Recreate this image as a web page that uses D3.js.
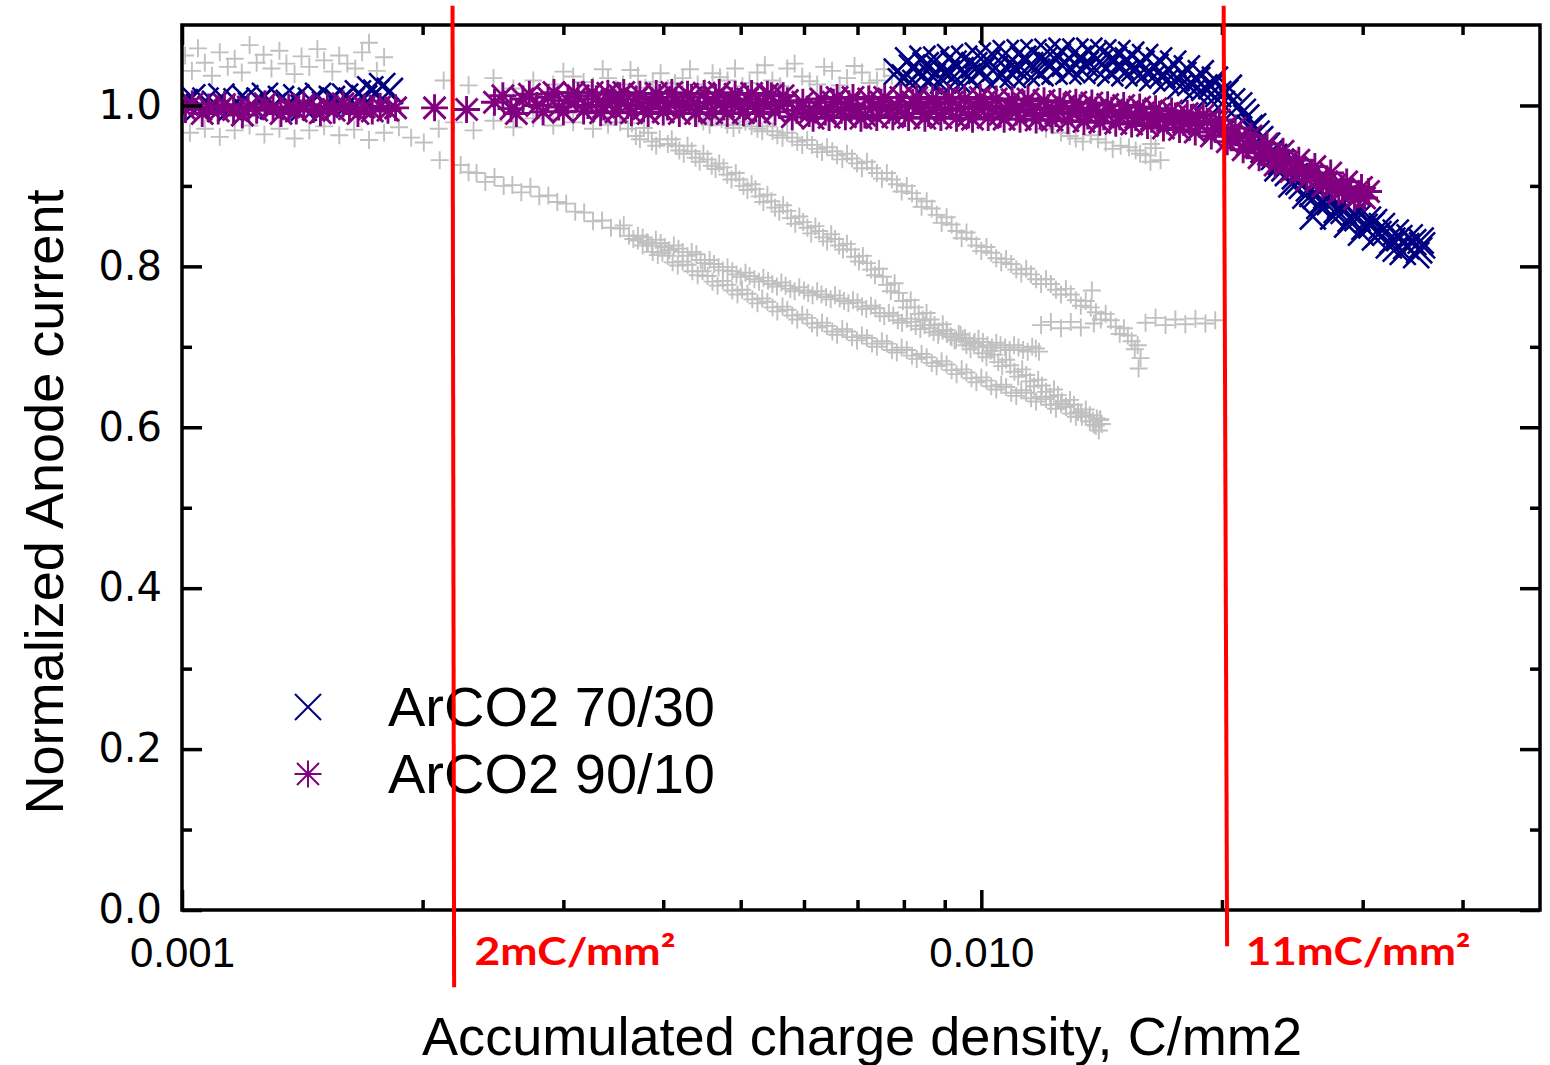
<!DOCTYPE html>
<html>
<head>
<meta charset="utf-8">
<script src="https://cdn.jsdelivr.net/npm/d3@7"></script>
<style>
  body { margin: 0; background: #fff; }
  svg { display: block; }
</style>
</head>
<body>
<svg id="chart" width="1550" height="1065"></svg>
<script>
// x values are in mC/mm2 (divided by 1000 when plotted, axis is C/mm2), y = normalized anode current

// --- reference runs (grey crosses)
const refA = [[1.009,1.062],[1.029,1.043],[1.047,1.071],[1.068,1.053],[1.090,1.037],[1.115,1.066],[1.141,1.048],[1.164,1.058],[1.188,1.041],[1.215,1.075],[1.240,1.053],[1.265,1.063],[1.294,1.046],[1.324,1.068],[1.351,1.052],[1.383,1.039],[1.411,1.061],[1.443,1.048],[1.477,1.070],[1.506,1.056],[1.542,1.042],[1.573,1.062],[1.610,1.052],[1.647,1.046],[1.680,1.066],[1.714,1.078],[1.753,1.043],[1.790,1.060],
  [2.125,1.031],[2.283,1.025],[2.453,1.034],[2.598,1.021],[2.751,1.031],[2.914,1.026],[3.00,1.042],[3.086,1.036],[3.18,1.029],[3.268,1.024],[3.36,1.045],[3.412,1.034],[3.49,1.020],[3.562,1.026],[3.64,1.044],[3.719,1.037],[3.80,1.022],[3.882,1.029],[3.97,1.040],[4.053,1.021],[4.14,1.028],[4.231,1.034],[4.32,1.045],[4.417,1.026],[4.51,1.022],[4.611,1.040],[4.71,1.035],[4.814,1.031],[4.92,1.046],[5.026,1.024],[5.13,1.028],[5.247,1.041],[5.36,1.050],[5.478,1.031],[5.60,1.024],[5.718,1.046],[5.84,1.052],[5.970,1.036],[6.10,1.030],[6.232,1.026],[6.36,1.048],[6.506,1.043],[6.65,1.025],[6.792,1.034],[6.94,1.049],[7.091,1.041],[7.25,1.028],[7.403,1.031],[7.56,1.045],[7.728,1.037],
  [8.068,1.029],[8.544,1.019],[9.049,1.012],[9.582,1.006],[10.15,1.000],[10.74,0.991],[11.38,0.984],[12.05,0.971],[12.3,0.975],[12.58,0.966],[12.9,0.962],[13.13,0.959],[13.4,0.955],[13.71,0.963],[14.0,0.958],[14.31,0.954],[14.6,0.946],[14.94,0.950],[15.3,0.948],[15.60,0.944],[15.8,0.940],[16.05,0.938],[16.3,0.952],[16.52,0.947],[16.76,0.932],[16.28,0.930]];

const refB = [[1.023,0.966],[1.068,0.971],[1.115,0.961],[1.164,0.969],[1.215,0.975],[1.268,0.964],[1.324,0.971],[1.383,0.959],[1.443,0.969],[1.506,0.974],[1.573,0.963],[1.642,0.970],[1.714,0.957],[1.790,0.966],[1.868,0.973],[1.935,0.960],[2.007,0.954],[2.095,0.971],[2.188,0.979],[2.316,0.969],[2.453,0.981],[2.598,0.973],[2.751,0.984],[2.914,0.975],[3.086,0.979],[3.268,0.971],[3.412,0.976],[3.532,0.979],
  [3.614,0.971],[3.697,0.962],[3.784,0.972],[3.871,0.955],[3.961,0.958],[4.053,0.952],[4.147,0.950],[4.243,0.940],[4.342,0.943],[4.442,0.930],[4.545,0.933],[4.651,0.921],[4.759,0.923],[4.869,0.908],[4.982,0.908],[5.098,0.895],[5.217,0.896],[5.338,0.880],[5.462,0.881],[5.589,0.868],[5.718,0.869],[5.851,0.853],[5.987,0.855],[6.126,0.841],[6.268,0.844],[6.413,0.831],[6.562,0.834],[6.714,0.821],[6.870,0.821],[7.029,0.806],[7.193,0.804],[7.360,0.789],[7.531,0.787],[7.705,0.769],[7.884,0.767],[8.068,0.749],[8.255,0.749],[8.446,0.734],[8.642,0.734],[8.843,0.719],[9.049,0.721],[9.259,0.708],[9.474,0.710],[9.694,0.697],[9.919,0.700],[10.15,0.687],[10.38,0.690],[10.62,0.676],[10.87,0.677],[11.12,0.663],[11.38,0.665],[11.64,0.651],[11.91,0.652],[12.19,0.638],[12.47,0.640],[12.76,0.626],[13.06,0.628],[13.36,0.613],[13.67,0.615],[13.91,0.602],[14.15,0.604],[14.03,0.596],
  [3.655,0.978],[3.74,0.958],[3.83,0.966],[3.92,0.950],[4.10,0.958],[4.19,0.944],[4.29,0.950],[4.39,0.935],[4.49,0.940],[4.60,0.925],[4.70,0.928],[4.81,0.914],[4.93,0.916],[5.04,0.900],[5.16,0.902],[5.28,0.887],[5.40,0.889],[5.52,0.873],[5.65,0.876],[5.78,0.860],[5.92,0.862],[6.06,0.848],[6.20,0.850],[6.34,0.836],[6.49,0.840],[6.64,0.826],[6.79,0.828],[6.95,0.812],[7.11,0.813],[7.28,0.796],[7.45,0.797],[7.62,0.777],[7.79,0.779],[7.98,0.757],[8.16,0.758],[8.35,0.741],[8.54,0.742],[8.74,0.727],[8.95,0.728],[9.15,0.713],[9.37,0.716],[9.58,0.702],[9.81,0.706],[10.03,0.692],[10.27,0.695],[10.50,0.681],[10.74,0.684],[11.00,0.669],[11.25,0.672],[11.51,0.657],[11.78,0.659],[12.05,0.644],[12.33,0.647],[12.61,0.632],[12.91,0.634],[13.21,0.619],[13.51,0.622],[13.79,0.608],[14.09,0.610]];

const refC = [[2.101,0.932],[2.232,0.926],[2.283,0.917],[2.336,0.916],[2.396,0.905],[2.460,0.911],[2.526,0.900],[2.590,0.901],[2.658,0.892],[2.728,0.899],[2.799,0.887],[2.873,0.888],[2.948,0.880],[3.025,0.878],[3.104,0.868],[3.185,0.867],[3.268,0.856],[3.354,0.857],[3.441,0.848],[3.532,0.847],[3.624,0.838],[3.719,0.838],[3.816,0.830],[3.916,0.833],[4.018,0.824],[4.124,0.826],[4.231,0.818],[4.342,0.818],[4.455,0.808],[4.572,0.808],[4.691,0.799],[4.814,0.799],[4.940,0.790],[5.069,0.792],[5.202,0.784],[5.338,0.786],[5.478,0.778],[5.621,0.780],[5.768,0.772],[5.919,0.774],[6.073,0.767],[6.232,0.769],[6.395,0.762],[6.562,0.764],[6.734,0.757],[6.910,0.758],[7.091,0.750],[7.276,0.751],[7.466,0.742],[7.661,0.742],[7.862,0.733],[8.068,0.735],[8.279,0.726],[8.495,0.727],[8.717,0.718],[8.945,0.720],[9.179,0.712],[9.420,0.715],[9.666,0.707],[9.919,0.710],[10.18,0.702],[10.44,0.705],[10.71,0.699],[10.99,0.702],[11.28,0.696],[11.58,0.700],[11.81,0.694],
  [3.57,0.851],[3.67,0.834],[3.77,0.836],[3.87,0.826],[3.97,0.829],[4.07,0.820],[4.18,0.822],[4.29,0.813],[4.40,0.815],[4.51,0.804],[4.63,0.803],[4.75,0.795],[4.88,0.794],[5.00,0.787],[5.13,0.788],[5.27,0.781],[5.41,0.782],[5.55,0.775],[5.69,0.776],[5.84,0.769],[6.00,0.770],[6.15,0.764],[6.31,0.765],[6.48,0.759],[6.65,0.760],[6.82,0.754],[7.00,0.755],[7.18,0.747],[7.37,0.748],[7.56,0.738],[7.76,0.739],[7.96,0.730],[8.17,0.731],[8.39,0.722],[8.61,0.723],[8.83,0.715],[9.06,0.716],[9.30,0.709],[9.54,0.711],[9.79,0.704],[10.05,0.706],[10.31,0.699],[10.57,0.702],[10.85,0.696],[11.13,0.699],[11.43,0.694],[11.70,0.698]];

const refD = [[3.719,0.832],[3.827,0.829],[3.938,0.814],[4.053,0.813],[4.171,0.801],[4.292,0.802],[4.417,0.789],[4.545,0.788],[4.678,0.776],[4.814,0.777],[4.954,0.765],[5.098,0.766],[5.247,0.754],[5.399,0.756],[5.557,0.744],[5.718,0.746],[5.885,0.734],[6.056,0.736],[6.232,0.724],[6.413,0.726],[6.600,0.715],[6.792,0.719],[6.990,0.708],[7.193,0.711],[7.403,0.700],[7.618,0.704],[7.840,0.693],[8.068,0.696],[8.303,0.685],[8.544,0.687],[8.793,0.676],[9.049,0.678],[9.313,0.666],[9.582,0.668],[9.858,0.656],[10.15,0.658],[10.44,0.647],[10.74,0.650],[11.06,0.639],[11.38,0.643],[11.71,0.632],[12.05,0.635],[12.40,0.623],[12.76,0.625],[13.13,0.613],[13.51,0.614],[13.83,0.603],[14.07,0.609],
  [3.77,0.826],[3.88,0.818],[3.99,0.817],[4.11,0.805],[4.23,0.806],[4.35,0.794],[4.48,0.794],[4.61,0.781],[4.75,0.782],[4.88,0.770],[5.02,0.771],[5.17,0.759],[5.32,0.760],[5.48,0.749],[5.64,0.750],[5.80,0.739],[5.97,0.740],[6.14,0.729],[6.32,0.730],[6.51,0.719],[6.70,0.722],[6.89,0.712],[7.09,0.714],[7.30,0.704],[7.51,0.707],[7.73,0.696],[7.95,0.699],[8.19,0.689],[8.42,0.691],[8.67,0.680],[8.92,0.682],[9.18,0.671],[9.45,0.672],[9.72,0.661],[10.00,0.662],[10.29,0.651],[10.59,0.653],[10.90,0.643],[11.22,0.646],[11.54,0.636],[11.88,0.638],[12.22,0.628],[12.58,0.629],[12.94,0.617],[13.32,0.618],[13.67,0.607],[13.95,0.611]];

const refE = [[4.417,0.984],[4.572,0.976],[4.732,0.983],[4.897,0.972],[5.069,0.980],[5.247,0.971],[5.399,0.974],[5.557,0.963],[5.718,0.966],[5.885,0.955],[6.056,0.957],[6.232,0.946],[6.413,0.948],[6.600,0.938],[6.792,0.940],[6.990,0.928],[7.193,0.930],[7.403,0.916],[7.618,0.916],[7.840,0.902],[8.068,0.900],[8.303,0.884],[8.544,0.881],[8.793,0.864],[9.049,0.861],[9.313,0.844],[9.582,0.842],[9.858,0.826],[10.15,0.824],[10.44,0.810],[10.74,0.809],[11.06,0.796],[11.38,0.797],[11.71,0.784],[12.05,0.784],[12.40,0.771],[12.76,0.772],[13.13,0.758],[13.51,0.757],[13.91,0.743],[14.31,0.741],[14.73,0.725],[15.08,0.723],[15.42,0.707],[15.69,0.702],[15.82,0.686],[15.73,0.673],[13.75,0.770],
  [4.49,0.980],[4.65,0.985],[4.81,0.976],[4.98,0.976],[5.16,0.974],[5.32,0.968],[5.48,0.968],[5.64,0.960],[5.80,0.960],[5.97,0.951],[6.14,0.951],[6.32,0.942],[6.51,0.943],[6.70,0.933],[6.89,0.934],[7.09,0.922],[7.30,0.922],[7.51,0.909],[7.73,0.908],[7.95,0.893],[8.19,0.891],[8.42,0.874],[8.67,0.872],[8.92,0.854],[9.18,0.852],[9.45,0.835],[9.72,0.834],[10.00,0.819],[10.29,0.817],[10.59,0.805],[10.90,0.803],[11.22,0.791],[11.54,0.790],[11.88,0.778],[12.22,0.778],[12.58,0.765],[12.94,0.765],[13.32,0.751],[13.71,0.749],[14.11,0.734],[14.52,0.733],[14.90,0.716],[15.25,0.714],[15.56,0.697]];

const refF = [[11.88,0.727],[12.22,0.731],[12.58,0.723],[12.94,0.731],[13.32,0.724],[13.83,0.729],[16.05,0.730],[16.52,0.736],[17.00,0.727],[17.49,0.734],[18.00,0.728],[18.53,0.735],[19.07,0.729],[19.62,0.733]];

// --- ArCO2 70/30 (navy x)
const arco7030 = [[1.008,1.004],[1.03,1.010],[1.05,0.998],[1.07,1.006],[1.10,1.002],[1.12,1.011],[1.15,0.996],[1.17,1.005],[1.20,1.009],[1.22,1.000],[1.25,1.006],[1.27,1.012],[1.30,0.999],[1.33,1.008],[1.36,1.003],[1.39,1.010],[1.42,0.997],[1.45,1.006],[1.48,1.012],[1.51,1.001],[1.54,1.008],[1.57,1.004],[1.60,1.011],[1.63,1.006],[1.66,1.015],[1.69,1.009],[1.72,1.020],[1.75,1.016],[1.78,1.024],[1.82,1.018],
  [7.84,1.042],[8.02,1.035],[8.19,1.047],[8.35,1.040],[8.52,1.050],[8.69,1.036],[8.87,1.046],[9.05,1.040],[9.23,1.052],[9.42,1.044],[9.61,1.036],[9.80,1.050],[10.00,1.043],[10.21,1.055],[10.41,1.046],[10.62,1.038],[10.84,1.052],[11.06,1.046],[11.28,1.058],[11.51,1.050],[11.74,1.042],[11.98,1.056],[12.22,1.050],[12.47,1.061],[12.72,1.052],[12.98,1.045],[13.24,1.058],[13.51,1.051],[13.79,1.062],[14.07,1.054],[14.35,1.046],[14.65,1.057],[14.94,1.049],[15.25,1.056],[15.55,1.046],[15.87,1.052],[16.19,1.043],[16.52,1.048],[16.86,1.038],[17.20,1.044],[17.55,1.034],[17.90,1.038],[18.26,1.028],[18.63,1.032],[19.01,1.022],[19.40,1.024],[19.79,1.014],[20.19,1.016],[20.60,1.005],[21.02,1.000],[21.45,0.985],[21.88,0.974],[22.33,0.958],[22.78,0.950],[23.24,0.936],[23.71,0.930],[24.19,0.916],[24.68,0.912],[25.18,0.900],[25.70,0.897],[25.99,0.862],[26.21,0.888],[26.75,0.882],[27.29,0.880],[27.84,0.870],[28.40,0.869],[28.98,0.859],[29.56,0.860],[30.16,0.849],[30.77,0.851],[31.00,0.855],[31.40,0.840],[32.03,0.842],[32.68,0.832],[33.00,0.822],[33.34,0.835],[34.01,0.825],[34.70,0.830],[35.30,0.820],[35.60,0.826],
  [7.93,1.030],[8.10,1.056],[8.27,1.028],[8.44,1.058],[8.61,1.030],[8.78,1.057],[8.96,1.031],[9.14,1.060],[9.33,1.032],[9.52,1.058],[9.71,1.033],[9.90,1.062],[10.10,1.034],[10.31,1.064],[10.52,1.036],[10.73,1.065],[10.95,1.038],[11.17,1.066],[11.40,1.040],[11.62,1.066],[11.86,1.040],[12.10,1.067],[12.35,1.042],[12.60,1.068],[12.85,1.042],[13.11,1.067],[13.38,1.043],[13.65,1.068],[13.93,1.044],[14.21,1.066],[14.50,1.040],[14.80,1.065],[15.10,1.040],[15.40,1.063],[15.71,1.037],[16.03,1.060],[16.36,1.034],[16.69,1.056],[17.03,1.030],[17.38,1.052],[17.73,1.024],[18.08,1.046],[18.45,1.018],[18.82,1.040],[19.20,1.010],[19.60,1.032],[20.00,1.002],[20.40,1.022],
  [21.24,0.992],[21.66,0.972],[22.10,0.965],[22.55,0.945],[23.00,0.942],[23.47,0.922],[23.95,0.922],[24.43,0.902],[24.93,0.905],[25.44,0.888],[25.96,0.890],[26.48,0.875],[27.02,0.888],[27.56,0.862],[28.12,0.876],[28.69,0.852],[29.27,0.866],[29.86,0.842],[30.46,0.858],[31.08,0.836],[31.71,0.850],[32.35,0.826],[33.00,0.842],[33.67,0.818],[34.35,0.836],[35.00,0.814],[35.45,0.832]];

// --- ArCO2 90/10 (purple asterisk)
const arco9010 = [[1.01,0.995],[1.03,1.002],[1.06,0.990],[1.08,0.998],[1.11,0.993],[1.13,1.001],[1.16,0.995],[1.19,0.988],[1.21,0.998],[1.24,0.994],[1.27,1.002],[1.30,0.996],[1.33,0.990],[1.36,0.998],[1.39,0.993],[1.42,1.001],[1.46,0.995],[1.49,0.991],[1.52,0.999],[1.55,0.994],[1.59,1.002],[1.62,0.996],[1.66,0.990],[1.69,0.998],[1.73,0.993],[1.77,0.999],[1.81,0.994],[1.85,0.997],
  [2.07,0.997],[2.27,0.995],
  [2.46,1.004],[2.58,0.996],[2.67,1.008],[2.78,1.000],[2.87,1.010],[2.96,0.998],[3.04,1.006],[3.13,1.012],[3.22,1.000],[3.30,1.008],[3.37,0.998],[3.45,1.006],[3.53,1.012],[3.61,1.000],[3.70,1.008],[3.78,0.996],[3.87,1.004],[3.96,1.010],[4.05,0.998],[4.15,1.006],[4.24,1.000],[4.34,1.010],[4.44,0.996],[4.55,1.004],[4.65,1.010],[4.76,0.998],[4.87,1.006],[4.98,1.000],[5.10,1.008],[5.22,0.996],[5.34,1.004],[5.46,1.012],[5.59,1.000],[5.72,1.006],[5.88,0.994],
  [6.09,0.990],[6.23,0.998],[6.38,0.992],[6.53,1.004],[6.68,0.994],[6.83,1.002],[6.99,0.996],[7.15,0.988],[7.32,0.998],[7.49,1.004],[7.66,0.994],[7.84,1.000],[8.02,0.990],[8.21,1.004],[8.40,0.998],[8.59,0.990],[8.79,1.002],[9.00,0.994],[9.20,1.004],[9.42,0.996],[9.64,0.988],[9.86,0.998],[10.09,1.004],[10.32,0.996],[10.56,0.989],[10.81,0.999],[11.06,0.992],[11.31,1.002],[11.58,0.995],[11.85,0.987],[12.12,0.997],[12.40,0.990],[12.69,0.999],[12.98,0.991],[13.29,0.997],[13.59,0.987],[13.91,0.994],[14.23,0.986],[14.56,0.994],[14.90,0.986],[15.25,0.992],[15.60,0.985],[15.96,0.991],[16.33,0.983],[16.71,0.989],[17.10,0.981],[17.49,0.987],[17.90,0.979],[18.31,0.985],[18.74,0.977],[19.17,0.980],[19.62,0.971],[20.08,0.970],[20.54,0.962],[21.02,0.960],[21.51,0.951],[22.00,0.949],[22.52,0.941],[23.04,0.939],[23.58,0.931],[24.12,0.929],[24.68,0.921],[25.25,0.919],[25.84,0.913],[26.44,0.909],[27.05,0.904],[27.68,0.901],[28.32,0.895],[28.98,0.893],[29.65,0.889],[30.16,0.885],[30.51,0.893],
  [2.52,1.012],[2.62,0.990],[2.72,1.014],[2.83,0.992],[2.92,1.016],[3.00,0.992],[3.09,1.016],[3.18,0.993],[3.26,1.016],[3.34,0.991],[3.41,1.015],[3.49,0.992],[3.57,1.016],[3.65,0.991],[3.74,1.014],[3.83,0.990],[3.92,1.015],[4.00,0.992],[4.10,1.016],[4.19,0.990],[4.29,1.014],[4.39,0.990],[4.50,1.015],[4.60,0.991],[4.70,1.016],[4.81,0.990],[4.92,1.014],[5.04,0.991],[5.16,1.015],[5.28,0.990],[5.40,1.014],[5.52,0.992],[5.65,1.012],[5.80,0.986],[5.98,1.004],[6.16,0.984],[6.30,1.008],[6.45,0.985],[6.60,1.010],[6.76,0.986],[6.91,1.010],[7.07,0.984],[7.23,1.008],[7.40,0.985],[7.57,1.010],[7.75,0.986],[7.93,1.010],[8.11,0.985],[8.30,1.010],[8.50,0.984],[8.69,1.008],[8.90,0.985],[9.10,1.010],[9.31,0.984],[9.53,1.008],[9.75,0.983],[9.97,1.010],[10.20,0.985],[10.44,1.008],[10.68,0.983],[10.93,1.007],[11.18,0.983],[11.44,1.008],[11.71,0.982],[11.98,1.006],[12.26,0.982],[12.54,1.005],[12.83,0.981],[13.13,1.004],[13.44,0.980],[13.75,1.003],[14.07,0.979],[14.39,1.001],[14.73,0.978],[15.07,1.000],[15.42,0.977],[15.78,0.998],[16.14,0.975],[16.52,0.996],[16.90,0.972],[17.30,0.993],[17.70,0.970],[18.10,0.990],[18.52,0.967],[18.95,0.988],[19.40,0.962],[19.85,0.982],[20.31,0.955],[20.78,0.972],[21.26,0.945],[21.75,0.962],[22.26,0.935],[22.78,0.952],[23.31,0.926],[23.85,0.943],[24.40,0.918],[24.96,0.932],[25.55,0.908],[26.14,0.924],[26.74,0.900],[27.36,0.916],[28.00,0.892],[28.65,0.905],[29.30,0.884],[29.90,0.898]];

// axis ticks / labels
const xMajorTicks = [0.001, 0.01];
const xTickLabels = ["0.001", "0.010"];
const xMinorTicks = [0.002, 0.003, 0.004, 0.005, 0.006, 0.007, 0.008, 0.009, 0.02, 0.03, 0.04];
const yMajorTicks = [0, 0.2, 0.4, 0.6, 0.8, 1.0];
const yMinorTicks = [0.1, 0.3, 0.5, 0.7, 0.9];

// red annotation lines (C/mm2 at top / bottom of the hand-drawn line)
const markTopX = [0.00218, 0.0201];
const markBotX = [0.00219, 0.0203];
const markTopY = 1.124;
const markBotY = [-0.096, -0.045];
const markLabels = ["2mC/mm²", "11mC/mm²"];

const legendNames = ["ArCO2 70/30", "ArCO2 90/10"];

// ---------------------------------------------------------------
const svg = d3.select("#chart");
const L = 182, R = 1540, T = 25, B = 910;

const x = d3.scaleLog().domain([0.001, 0.05]).range([L, R]);
const y = d3.scaleLinear().domain([0, 1.1]).range([B, T]);

const GREY = "#c0c0c0", NAVY = "#000080", PURPLE = "#800080", RED = "#ff0000";
const FONT = "'Liberation Sans', Arial, sans-serif";

// marker shapes
const plusPath = s => `M${-s},0H${s}M0,${-s}V${s}`;
const xPath = s => `M${-s},${-s}L${s},${s}M${-s},${s}L${s},${-s}`;
const starPath = (s, d) => `M${-s},0H${s}M0,${-s}V${s}M${-d},${-d}L${d},${d}M${-d},${d}L${d},${-d}`;

svg.append("defs").append("clipPath").attr("id", "plotClip")
  .append("rect").attr("x", L).attr("y", T).attr("width", R - L).attr("height", B - T);

const plot = svg.append("g").attr("clip-path", "url(#plotClip)");

const series = [
  { data: refA, color: GREY, d: plusPath(9), w: 1.9 },
  { data: refB, color: GREY, d: plusPath(9), w: 1.9 },
  { data: refC, color: GREY, d: plusPath(9), w: 1.9 },
  { data: refD, color: GREY, d: plusPath(9), w: 1.9 },
  { data: refE, color: GREY, d: plusPath(9), w: 1.9 },
  { data: refF, color: GREY, d: plusPath(9), w: 1.9 },
  { data: arco7030, color: NAVY, d: xPath(13), w: 2.6 },
  { data: arco9010, color: PURPLE, d: starPath(13.5, 11), w: 2.9 }
];

series.forEach(s => {
  plot.append("g")
    .attr("fill", "none").attr("stroke", s.color).attr("stroke-width", s.w)
    .selectAll("path").data(s.data).join("path")
    .attr("transform", d => `translate(${x(d[0] / 1000)},${y(d[1])})`)
    .attr("d", s.d);
});

// --- axes (ticks point inward)
function styleAxis(g) {
  g.select(".domain").remove();
  g.selectAll(".tick line").attr("stroke", "#000").attr("stroke-width", 3.5);
}

svg.append("g").attr("transform", `translate(0,${B})`)
  .call(d3.axisBottom(x).tickValues(xMajorTicks).tickSize(-20).tickPadding(27)
    .tickFormat((d, i) => xTickLabels[i]))
  .call(styleAxis)
  .call(g => g.selectAll("text").attr("fill", "#000")
    .attr("font-family", FONT).attr("font-size", 42));
svg.append("g").attr("transform", `translate(0,${B})`)
  .call(d3.axisBottom(x).tickValues(xMinorTicks).tickSize(-10).tickFormat(""))
  .call(styleAxis);
svg.append("g").attr("transform", `translate(0,${T})`)
  .call(d3.axisTop(x).tickValues(xMajorTicks).tickSize(-20).tickFormat(""))
  .call(styleAxis);
svg.append("g").attr("transform", `translate(0,${T})`)
  .call(d3.axisTop(x).tickValues(xMinorTicks).tickSize(-10).tickFormat(""))
  .call(styleAxis);

svg.append("g").attr("transform", `translate(${L},0)`)
  .call(d3.axisLeft(y).tickValues(yMajorTicks).tickSize(-20).tickPadding(20)
    .tickFormat(d3.format(".1f")))
  .call(styleAxis)
  .call(g => g.selectAll("text").attr("fill", "#000")
    .attr("font-family", "'DejaVu Sans', sans-serif").attr("font-size", 40));
svg.append("g").attr("transform", `translate(${L},0)`)
  .call(d3.axisLeft(y).tickValues(yMinorTicks).tickSize(-10).tickFormat(""))
  .call(styleAxis);
svg.append("g").attr("transform", `translate(${R},0)`)
  .call(d3.axisRight(y).tickValues(yMajorTicks).tickSize(-20).tickFormat(""))
  .call(styleAxis);
svg.append("g").attr("transform", `translate(${R},0)`)
  .call(d3.axisRight(y).tickValues(yMinorTicks).tickSize(-10).tickFormat(""))
  .call(styleAxis);

// frame
svg.append("rect").attr("x", L).attr("y", T).attr("width", R - L).attr("height", B - T)
  .attr("fill", "none").attr("stroke", "#000").attr("stroke-width", 3.5);

// axis titles
svg.append("text").attr("x", 862).attr("y", 1055)
  .attr("text-anchor", "middle").attr("font-family", FONT)
  .attr("font-size", 54).attr("textLength", 880).attr("lengthAdjust", "spacingAndGlyphs")
  .text("Accumulated charge density, C/mm2");

svg.append("text").attr("transform", "translate(63,502) rotate(-90)")
  .attr("text-anchor", "middle").attr("font-family", FONT)
  .attr("font-size", 54).attr("textLength", 625).attr("lengthAdjust", "spacingAndGlyphs")
  .text("Normalized Anode current");

// legend
const legend = svg.append("g");
[{ d: xPath(13), c: NAVY }, { d: starPath(13.5, 11), c: PURPLE }].forEach((m, i) => {
  const ly = 707 + i * 67;
  legend.append("path").attr("transform", `translate(308,${ly})`).attr("d", m.d)
    .attr("fill", "none").attr("stroke", m.c).attr("stroke-width", 2);
  legend.append("text").attr("x", 388).attr("y", ly + 19)
    .attr("font-family", FONT).attr("font-size", 56)
    .attr("textLength", 327).attr("lengthAdjust", "spacingAndGlyphs")
    .text(legendNames[i]);
});

// red annotations
const ann = svg.append("g");
markTopX.forEach((v, i) => {
  ann.append("line")
    .attr("x1", x(v)).attr("y1", y(markTopY))
    .attr("x2", x(markBotX[i])).attr("y2", y(markBotY[i]))
    .attr("stroke", RED).attr("stroke-width", 4);
  ann.append("text").attr("x", x(v) + 22).attr("y", 965)
    .attr("fill", RED).attr("font-family", "Lato, 'Open Sans', sans-serif").attr("font-weight", 700)
    .attr("font-size", 38).attr("textLength", i === 0 ? 201 : 225).attr("lengthAdjust", "spacingAndGlyphs")
    .text(markLabels[i]);
});
</script>
</body>
</html>
